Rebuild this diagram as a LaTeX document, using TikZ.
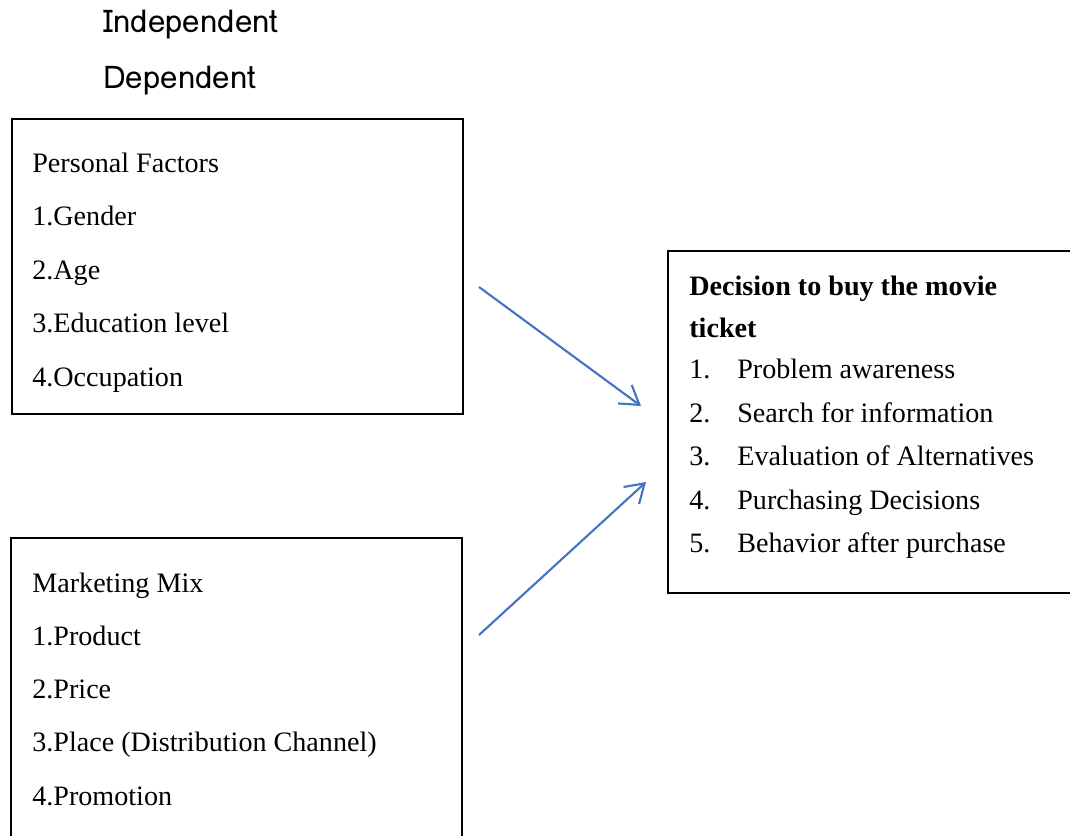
\documentclass[tikz,border=0pt]{standalone}
\usepackage{fontspec}
\setmainfont{Liberation Serif}
\newfontfamily\labelfont{Loma}
\usetikzlibrary{arrows.meta, positioning}

\begin{document}
\begin{tikzpicture}[font=\fontsize{16}{19}\selectfont,
  box/.style={draw, line width=1.3pt, inner sep=0pt, anchor=north west},
  txt/.style={inner sep=0pt, anchor=base west},
  link/.style={color={rgb,255:red,68;green,114;blue,196}, line width=1.2pt,
    -{Straight Barb[length=0.36cm, width=0.46cm, line width=1.2pt]}}]

\clip (0,0) rectangle (21.4,-16.7);

\node[txt, font=\labelfont\fontsize{17.8}{20}\selectfont] (indep) at (2.06,-0.64) {Independent};
\node[txt, font=\labelfont\fontsize{17.8}{20}\selectfont] (dep) at (2.06,-1.76) {Dependent};

\node[box, minimum width=9.02cm, minimum height=5.9cm] (pf) at (0.22,-2.36) {};
\node[box, minimum width=9.02cm, minimum height=7cm] (mm) at (0.2,-10.74) {};
\node[box, minimum width=9cm, minimum height=6.84cm] (dec) at (13.34,-5.0) {};

\foreach \t [count=\i from 0] in {Personal Factors, 1.Gender, 2.Age, 3.Education level, 4.Occupation}
  \node[txt] (pf-\i) at (0.64,-3.44-1.07*\i) {\t};

\foreach \t [count=\i from 0] in {Marketing Mix, 1.Product, 2.Price, 3.Place (Distribution Channel), 4.Promotion}
  \node[txt] (mm-\i) at (0.64,-11.84-1.066*\i) {\t};

\node[txt, font=\bfseries\fontsize{16}{19}\selectfont] (dec-title) at (13.78,-5.9) {Decision to buy the movie};
\node[txt, font=\bfseries\fontsize{16}{19}\selectfont] (dec-title2) at (13.78,-6.74) {ticket};

\foreach \t [count=\i] in {Problem awareness, Search for information, Evaluation of Alternatives, Purchasing Decisions, Behavior after purchase} {
  \node[txt] (dn-\i) at (13.78,-6.7-0.87*\i) {\i.};
  \node[txt] (dt-\i) at (14.74,-6.7-0.87*\i) {\t};
}

\coordinate (a1s) at (9.58,-5.74);
\coordinate (a1e) at (12.82,-8.12);
\coordinate (a2s) at (9.58,-12.7);
\coordinate (a2e) at (12.92,-9.64);

\draw[link] (a1s) -- (a1e);
\draw[link] (a2s) -- (a2e);

\end{tikzpicture}
\end{document}
